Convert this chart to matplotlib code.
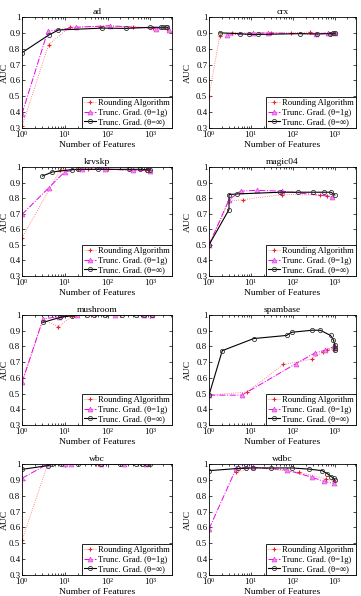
import matplotlib
matplotlib.use("Agg")
import matplotlib.pyplot as plt
from matplotlib.ticker import FixedLocator, FixedFormatter, LogLocator, NullFormatter

plt.rcParams['font.family'] = ['Liberation Serif', 'DejaVu Serif']
plt.rcParams['mathtext.fontset'] = 'stix'

titles = ["ad", "crx", "krvskp", "magic04", "mushroom", "spambase", "wbc", "wdbc"]
legend_labels = ["Rounding Algorithm", "Trunc. Grad. (\u03b8=1g)", "Trunc. Grad. (\u03b8=\u221e)"]
yticks = [0.3, 0.4, 0.5, 0.6, 0.7, 0.8, 0.9, 1.0]
ytick_labels = ["0.3", "0.4", "0.5", "0.6", "0.7", "0.8", "0.9", "1"]

# ad
ad_round_x = [1, 4.2, 13, 65, 390, 1130, 2500]
ad_round_y = [0.31, 0.826, 0.937, 0.94, 0.94, 0.93, 0.925]
ad_tg1_x = [1, 4, 18.7, 112, 1350, 2760]
ad_tg1_y = [0.39, 0.91, 0.935, 0.945, 0.927, 0.92]
ad_tginf_x = [1, 4.2, 7.1, 75, 272, 980, 1770, 2000, 2300, 2500]
ad_tginf_y = [0.775, 0.886, 0.918, 0.93, 0.928, 0.935, 0.935, 0.935, 0.935, 0.935]

# crx
crx_round_x = [1, 1.8, 3.5, 30, 90, 260, 830, 1000]
crx_round_y = [0.5, 0.88, 0.9, 0.9, 0.9, 0.905, 0.893, 0.9]
crx_tg1_x = [2.7, 11, 25, 360, 690, 1000]
crx_tg1_y = [0.885, 0.897, 0.9, 0.893, 0.9, 0.9]
crx_tginf_x = [1.8, 5.5, 8.8, 15, 150, 380, 750, 900, 1000]
crx_tginf_y = [0.9, 0.895, 0.89, 0.89, 0.895, 0.893, 0.895, 0.897, 0.897]

# krvskp
krvskp_round_x = [1, 7.8, 20, 35, 100, 400, 800, 1000]
krvskp_round_y = [0.545, 0.98, 0.985, 0.985, 0.985, 0.98, 0.98, 0.98]
krvskp_tg1_x = [1, 4.2, 10, 25, 88, 400, 1000]
krvskp_tg1_y = [0.695, 0.866, 0.97, 0.985, 0.987, 0.978, 0.977]
krvskp_tginf_x = [3, 5.1, 14.5, 20, 61, 310, 580, 850, 1000]
krvskp_tginf_y = [0.942, 0.968, 0.983, 0.985, 0.985, 0.985, 0.985, 0.983, 0.98]

# magic04
magic04_round_x = [1, 3, 6.5, 55, 450, 650, 880]
magic04_round_y = [0.5, 0.78, 0.79, 0.823, 0.82, 0.815, 0.81]
magic04_tg1_x = [1, 3, 5.7, 13.6, 55, 880]
magic04_tg1_y = [0.5, 0.79, 0.845, 0.85, 0.845, 0.81]
magic04_tginf_x = [1, 3, 3, 4.7, 50, 135, 310, 560, 810, 1000]
magic04_tginf_y = [0.5, 0.727, 0.823, 0.827, 0.838, 0.838, 0.838, 0.838, 0.838, 0.82]

# mushroom
mushroom_round_x = [1, 3.1, 7.1, 15, 50, 200, 700, 1100]
mushroom_round_y = [0.57, 0.97, 0.926, 0.995, 1.0, 1.0, 1.0, 1.0]
mushroom_tg1_x = [1, 3.1, 7.5, 19, 150, 700, 1100]
mushroom_tg1_y = [0.571, 0.975, 0.99, 1.0, 1.0, 1.0, 1.0]
mushroom_tginf_x = [3.1, 7.8, 14.5, 33, 47, 88, 220, 450, 700, 1100]
mushroom_tginf_y = [0.953, 0.985, 0.995, 1.0, 1.0, 1.0, 1.0, 1.0, 1.0, 1.0]

# spambase
spambase_round_x = [1, 8, 59, 290, 520, 650, 950, 1000]
spambase_round_y = [0.49, 0.51, 0.685, 0.72, 0.765, 0.78, 0.78, 0.8]
spambase_tg1_x = [1, 6.1, 118, 343, 590, 950, 1000]
spambase_tg1_y = [0.49, 0.49, 0.69, 0.76, 0.775, 0.8, 0.79]
spambase_tginf_x = [1, 2.07, 11.6, 71, 93, 285, 450, 790, 930, 1000, 1000, 1000]
spambase_tginf_y = [0.49, 0.773, 0.85, 0.87, 0.89, 0.903, 0.903, 0.87, 0.84, 0.81, 0.79, 0.775]

# wbc
wbc_round_x = [1, 4, 10, 55, 240, 800]
wbc_round_y = [0.518, 1.0, 1.0, 1.0, 1.0, 1.0]
wbc_tg1_x = [1, 4, 10, 14, 70, 240, 800]
wbc_tg1_y = [0.91, 1.0, 1.0, 1.0, 1.0, 1.0, 1.0]
wbc_tginf_x = [1, 4, 5, 8, 20, 70, 200, 450, 650, 850, 1000]
wbc_tginf_y = [0.966, 0.99, 1.0, 1.0, 1.0, 1.0, 1.0, 1.0, 1.0, 1.0, 1.0]

# wdbc
wdbc_round_x = [4.5, 11, 140, 600, 950]
wdbc_round_y = [0.947, 0.98, 0.947, 0.907, 0.89]
wdbc_tg1_x = [1, 4.5, 11, 72, 290, 550, 950]
wdbc_tg1_y = [0.59, 0.975, 0.98, 0.962, 0.916, 0.89, 0.878]
wdbc_tginf_x = [1, 5, 7.6, 11, 30, 95, 240, 500, 650, 820, 950, 1000]
wdbc_tginf_y = [0.958, 0.972, 0.973, 0.975, 0.975, 0.975, 0.968, 0.958, 0.94, 0.92, 0.91, 0.9]

series = [
    (ad_round_x, ad_round_y, ad_tg1_x, ad_tg1_y, ad_tginf_x, ad_tginf_y),
    (crx_round_x, crx_round_y, crx_tg1_x, crx_tg1_y, crx_tginf_x, crx_tginf_y),
    (krvskp_round_x, krvskp_round_y, krvskp_tg1_x, krvskp_tg1_y, krvskp_tginf_x, krvskp_tginf_y),
    (magic04_round_x, magic04_round_y, magic04_tg1_x, magic04_tg1_y, magic04_tginf_x, magic04_tginf_y),
    (mushroom_round_x, mushroom_round_y, mushroom_tg1_x, mushroom_tg1_y, mushroom_tginf_x, mushroom_tginf_y),
    (spambase_round_x, spambase_round_y, spambase_tg1_x, spambase_tg1_y, spambase_tginf_x, spambase_tginf_y),
    (wbc_round_x, wbc_round_y, wbc_tg1_x, wbc_tg1_y, wbc_tginf_x, wbc_tginf_y),
    (wdbc_round_x, wdbc_round_y, wdbc_tg1_x, wdbc_tg1_y, wdbc_tginf_x, wdbc_tginf_y),
]

W, H = 361, 596
fig = plt.figure(figsize=(W / 100, H / 100), dpi=100)

col_left = [22, 209]
col_right = [172, 356]
row_top = [17, 167, 315, 464]
row_bot = [128, 276, 425, 575]
ylabel_x = [-0.088, -0.115]

for i, (title, s) in enumerate(zip(titles, series)):
    r, c = divmod(i, 2)
    l = col_left[c] / W
    w = (col_right[c] - col_left[c]) / W
    b = 1 - row_bot[r] / H
    h = (row_bot[r] - row_top[r]) / H
    ax = fig.add_axes([l, b, w, h])
    rx, ry, gx, gy, kx, ky = s
    ax.plot(rx, ry, linestyle=':', color='#ff6666', lw=0.6, marker='+', ms=3.5,
            mec='#ee2222', mew=0.8, label=legend_labels[0])
    ax.plot(gx, gy, linestyle='-.', color='#ee00ee', lw=0.7, marker='^', ms=3.5,
            mfc='#f28cf2', mec='#dd44dd', mew=0.5, label=legend_labels[1])
    ax.plot(kx, ky, linestyle='-', color='black', lw=0.8, marker='o', ms=3,
            mfc='none', mec='#333333', mew=0.6, label=legend_labels[2])
    ax.set_xscale('log')
    ax.set_xlim(1, 3200)
    ax.set_ylim(0.3, 1.0)
    ax.yaxis.set_major_locator(FixedLocator(yticks))
    ax.yaxis.set_major_formatter(FixedFormatter(ytick_labels))
    ax.xaxis.set_major_locator(LogLocator(base=10, numticks=10))
    ax.xaxis.set_minor_locator(LogLocator(base=10, subs=range(2, 10), numticks=20))
    ax.xaxis.set_minor_formatter(NullFormatter())
    ax.tick_params(which='both', direction='in', top=True, right=True, labelsize=6.3,
                   width=0.5, pad=1.2)
    ax.tick_params(axis='x', which='both', pad=0.8)
    ax.tick_params(which='major', length=2.5)
    ax.tick_params(which='minor', length=1.3)
    for sp in ax.spines.values():
        sp.set_linewidth(0.6)
    ax.set_title(title, fontsize=6.8, pad=2.5)
    ax.set_ylabel("AUC", fontsize=6.8)
    ax.yaxis.set_label_coords(ylabel_x[c], 0.5)
    ax.set_xlabel("Number of Features", fontsize=6.8)
    ax.xaxis.set_label_coords(0.5, -0.115)
    leg = ax.legend(loc='lower right', fontsize=6.2, frameon=True, fancybox=False,
                    edgecolor='black', framealpha=1, borderaxespad=0.0, borderpad=0.25,
                    handlelength=1.3, handletextpad=0.3, labelspacing=0.15)
    leg.get_frame().set_linewidth(0.6)

fig.savefig("out.png", dpi=100)
